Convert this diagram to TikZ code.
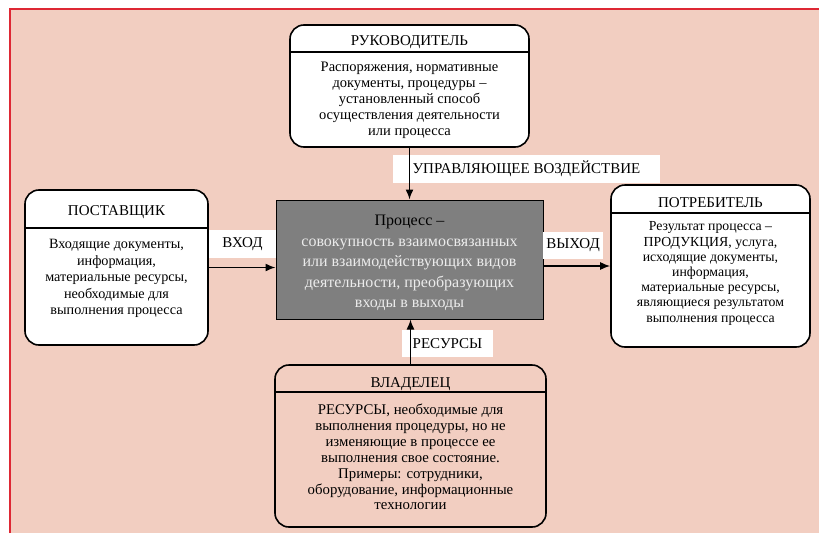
\documentclass[tikz,border=0pt]{standalone}
\usepackage{fontspec}
\setmainfont{Liberation Serif}
\usetikzlibrary{arrows.meta, positioning}
\definecolor{bgpink}{RGB}{242, 206, 193}
\definecolor{frred}{RGB}{222, 40, 52}
\definecolor{procgray}{RGB}{127, 127, 127}
\definecolor{proctext}{RGB}{236, 236, 236}

\begin{document}
\begin{tikzpicture}[x=1pt, y=-1pt,
  rbox/.style={draw, line width=1.6pt, rounded corners=14pt, inner sep=0pt},
  head/.style={inner sep=0pt, anchor=base, font=\fontsize{15}{16}\selectfont},
  body/.style={inner sep=0pt, align=center, font=\fontsize{14.5}{16}\selectfont},
  lbl/.style={fill=white, inner sep=0pt, font=\fontsize{15}{16}\selectfont},
  arr/.style={line width=1.5pt, -{Latex[length=10pt, width=8pt]}}
]
  \useasboundingbox (0,0) rectangle (819,533);
  \fill[bgpink] (10,9) rectangle (819,533);
  \draw[frred, line width=2pt] (10,533) -- (10,9) -- (819,9);

  % process
  \node[draw, fill=procgray, line width=1pt, minimum width=267pt, minimum height=119pt] (proc) at (409.5,259.5) {};
  \node[inner sep=0pt, align=center, text=proctext, font=\fontsize{16}{20.5}\selectfont] (proc text) at (409.5,263) {
    \textcolor{black}{Процесс –}\\
    совокупность взаимосвязанных\\
    или взаимодействующих видов\\
    деятельности, преобразующих\\
    входы в выходы
  };

  % manager
  \node[rbox, fill=white, minimum width=239pt, minimum height=122pt] (boss) at (409.5,86) {};
  \draw[line width=1.6pt] ([yshift=-28pt]boss.north west) -- ([yshift=-28pt]boss.north east);
  \node[head] (boss head) at (409.5,45) {РУКОВОДИТЕЛЬ};
  \node[body] (boss body) at (409.5,100.5) {
    Распоряжения, нормативные\\
    документы, процедуры –\\
    установленный способ\\
    осуществления деятельности\\
    или процесса
  };

  % supplier
  \node[rbox, fill=white, minimum width=183pt, minimum height=155pt] (supplier) at (116.5,267.5) {};
  \draw[line width=1.6pt] ([yshift=-39pt]supplier.north west) -- ([yshift=-39pt]supplier.north east);
  \node[head] (supplier head) at (116.5,215) {ПОСТАВЩИК};
  \node[body, font=\fontsize{14.2}{16.5}\selectfont] (supplier body) at (116.5,278.5) {
    Входящие документы,\\
    информация,\\
    материальные ресурсы,\\
    необходимые для\\
    выполнения процесса
  };

  % consumer
  \node[rbox, fill=white, minimum width=199pt, minimum height=162pt] (consumer) at (710.5,266) {};
  \draw[line width=1.6pt] ([yshift=-29pt]consumer.north west) -- ([yshift=-29pt]consumer.north east);
  \node[head] (consumer head) at (710.5,207) {ПОТРЕБИТЕЛЬ};
  \node[body, font=\fontsize{13.8}{15.2}\selectfont] (consumer body) at (710.5,273.5) {
    Результат процесса –\\
    ПРОДУКЦИЯ, услуга,\\
    исходящие документы,\\
    информация,\\
    материальные ресурсы,\\
    являющиеся результатом\\
    выполнения процесса
  };

  % owner
  \node[rbox, minimum width=271pt, minimum height=162pt] (owner) at (410.5,446) {};
  \draw[line width=1.6pt] ([yshift=-28pt]owner.north west) -- ([yshift=-28pt]owner.north east);
  \node[head] (owner head) at (410.5,387) {ВЛАДЕЛЕЦ};
  \node[body, font=\fontsize{14.8}{15.9}\selectfont] (owner body) at (410.5,457) {
    РЕСУРСЫ, необходимые для\\
    выполнения процедуры, но не\\
    изменяющие в процессе ее\\
    выполнения свое состояние.\\
    Примеры: сотрудники,\\
    оборудование, информационные\\
    технологии
  };

  % labels
  \node[lbl, minimum width=267pt, minimum height=28pt] (ctrl) at (526.5,169) {УПРАВЛЯЮЩЕЕ ВОЗДЕЙСТВИЕ};
  \node[lbl, minimum width=67pt, minimum height=28pt] (input) at (242.5,244) {ВХОД};
  \node[lbl, minimum width=60pt, minimum height=27pt] (output) at (573,245.5) {ВЫХОД};
  \node[lbl, minimum width=91pt, minimum height=27pt] (res) at (447.5,343.5) {РЕСУРСЫ};

  % arrows
  \draw[arr] (boss.south) -- (proc.north);
  \draw[arr] (owner.north) -- (owner.north |- proc.south);
  \draw[arr] (supplier.east) -- (supplier.east -| proc.west);
  \draw[arr] (proc.east |- consumer.west) -- (consumer.west);
\end{tikzpicture}
\end{document}
